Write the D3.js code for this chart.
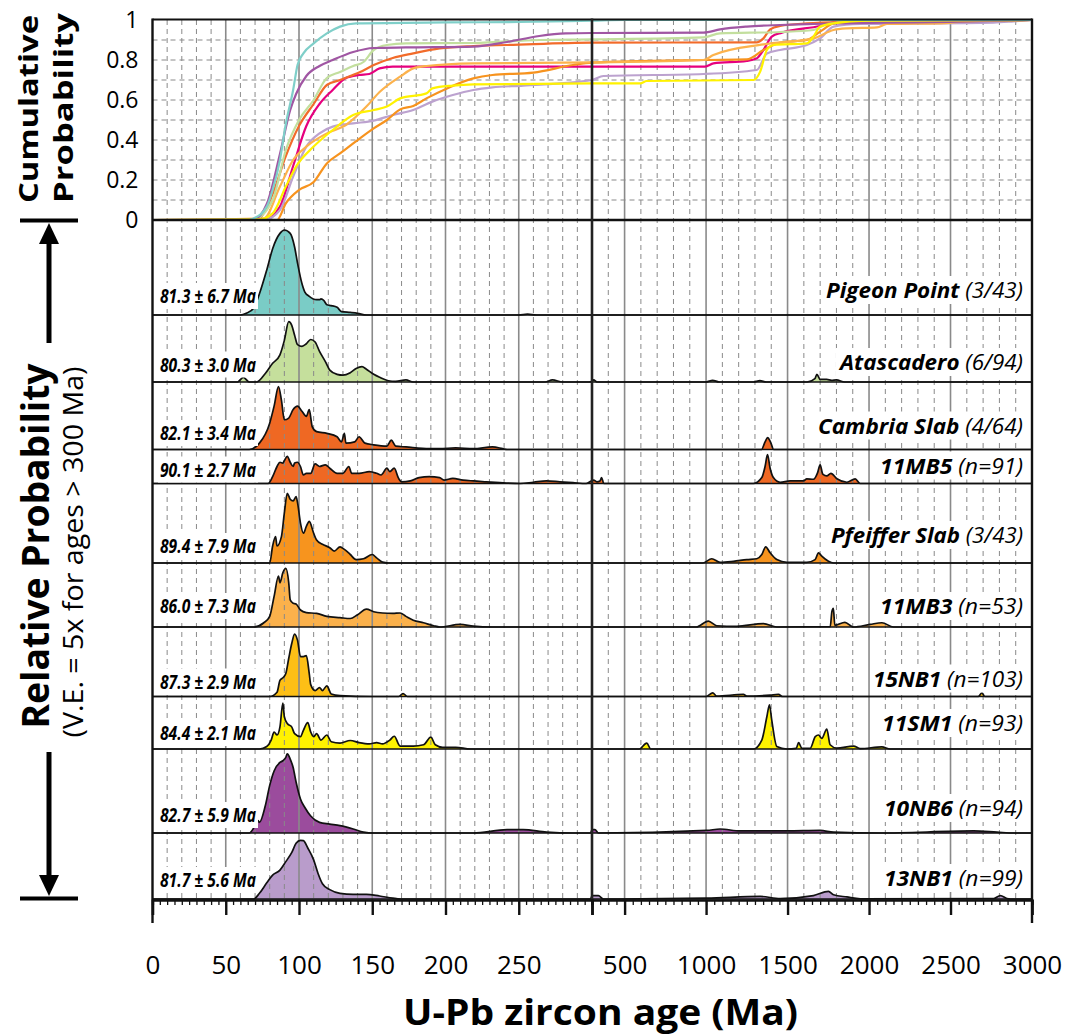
<!DOCTYPE html>
<html>
<head>
<meta charset="utf-8">
<script src="https://cdn.jsdelivr.net/npm/d3@7"></script>
<style>
  body { margin: 0; background: #fff; }
  svg { display: block; }
  text { font-family: "Open Sans", "Noto Sans", sans-serif; fill: #000; }
</style>
</head>
<body>
<svg id="chart" width="1068" height="1035"></svg>
<script>
// ---- data: sample names, labels ----
const sampleNames = ["Pigeon Point", "Atascadero", "Cambria Slab", "11MB5", "Pfeiffer Slab",
                     "11MB3", "15NB1", "11SM1", "10NB6", "13NB1"];
const sampleCounts = ["(3/43)", "(6/94)", "(4/64)", "(n=91)", "(3/43)",
                      "(n=53)", "(n=103)", "(n=93)", "(n=94)", "(n=99)"];
const youngAges = ["81.3 ± 6.7 Ma", "80.3 ± 3.0 Ma", "82.1 ± 3.4 Ma", "90.1 ± 2.7 Ma", "89.4 ± 7.9 Ma",
                   "86.0 ± 7.3 Ma", "87.3 ± 2.9 Ma", "84.4 ± 2.1 Ma", "82.7 ± 5.9 Ma", "81.7 ± 5.6 Ma"];

// relative probability [age Ma, % of tallest peak] (ages > 300 Ma shown with 5x V.E.)
const pigeonPoint = [[0,0],[60,0],[64,2],[69,8],[73,25],[78,53],[82,78],[87,96],[90,100],[94,96],[97,80],[99,61],
  [102,37],[104,27],[107,22],[112,18],[114,18],[115,19],[117,17],[119,12],[122,11],[126,9],[129,4],[135,3],[140,2],
  [146,0],[250,0],[256,1],[262,0],[3000,0]];
const atascadero = [[0,0],[58,0],[62,5.5],[66,0],[71,0],[77,10],[82,22],[87,32],[90,49],[93,71],[95,67],[97,55],
  [99,44],[102,42],[105,45],[108,50],[111,47],[114,36],[118,24],[121,14],[126,9],[130,8],[135,11],[139,16],[143,18],
  [146,15],[151,9],[155,5.5],[161,1.5],[166,0.8],[173,2.4],[178,0],[268,0],[273,2.4],[280,0],[298,0],[300,1],[310,2.4],
  [330,0],[1000,0],[1040,2],[1080,0],[1290,0],[1330,1.6],[1370,0],[1620,0],[1668,4],[1680,9],[1700,3],[1740,3],
  [1770,2],[1800,2.4],[1850,0],[3000,0]];
const cambriaSlab = [[0,0],[66,0],[73,7.5],[80,31],[83,51],[86,74],[88,58],[90,35],[93,37],[96,47],[99,51],[102,45],
  [105,39],[107,47],[109,27],[112,21],[119,19],[126,15],[129,9],[131,19],[132,7.5],[138,9],[141,15],[145,7.5],
  [151,5.5],[160,4],[163,11],[166,4],[173,3],[189,1],[196,1],[207,2],[219,1],[232,3],[239,1],[242,0],[1340,0],
  [1362,9],[1378,14],[1395,9],[1415,0],[3000,0]];
const mb5 = [[0,0],[79,0],[82,8],[85,20],[87,25],[89,24],[90,27],[92,32],[94,25],[96,20],[97,24],[99,25],[101,20],
  [103,10],[105,12],[108,12],[111,23],[114,20],[118,22],[121,18],[126,12],[130,12],[134,20],[136,12],[141,12],
  [148,14],[153,12],[156,10],[160,18],[162,14],[165,18],[168,6],[170,2],[176,3],[182,7],[189,8],[196,7],[199,4],
  [205,6],[212,4],[219,3],[228,2],[237,1],[251,0],[260,1.5],[269,3],[278,2],[287,1],[296,0],[310,4],[330,2],
  [349,3],[359,7],[372,0],[1290,0],[1342,7],[1362,20],[1377,34],[1393,18],[1413,7],[1454,1.5],[1516,3],[1598,3],
  [1618,5.5],[1659,5],[1684,12.5],[1700,22],[1716,11],[1741,9],[1766,12],[1803,5.5],[1864,1.5],[1915,5.5],
  [1946,0],[3000,0]];
const pfeifferSlab = [[0,0],[80,0],[82,20],[84,31],[85,20],[88,31],[90,59],[92,82],[94,75],[96,73],[98,78],[99,71],
  [101,47],[103,35],[105,43],[107,49],[110,35],[112,27],[116,22],[121,18],[124,14],[128,19],[131,16],[135,10],
  [139,4],[144,5],[150,10],[153,6],[157,1],[161,0],[980,0],[1035,5],[1086,0.8],[1168,2],[1250,4],[1311,5],
  [1342,10],[1366,19],[1393,12],[1434,4],[1496,0.8],[1618,0.8],[1669,4],[1690,12],[1710,8],[1751,2],[1782,0],
  [3000,0]];
const mb3 = [[0,0],[69,0],[76,5],[80,12.5],[83,36],[86,60],[87,52],[89,64],[91,69],[93,52],[94,32],[96,28],[98,27],
  [101,20],[105,17],[112,16],[119,12.5],[128,11],[135,10],[140,14.5],[146,21],[151,18],[157,16.5],[164,16],
  [169,16.5],[173,12.5],[178,8],[185,5],[192,1.5],[196,0],[210,3],[219,1],[232,0],[940,0],[1014,7],[1065,1.5],
  [1188,0.8],[1352,4],[1434,0],[1762,0.5],[1772,18],[1781,22],[1790,2],[1852,5.5],[1903,0],[2006,3],[2079,5],
  [2150,0],[3000,0]];
const nb15 = [[0,0],[80,0],[85,5],[87,19],[89,22],[91,27],[93,45],[95,62],[97,73.5],[99,66],[101,47],[103,47],
  [105,48],[107,27],[108,14],[111,7],[114,10.5],[116,7],[119,12.6],[122,3],[128,1],[150,0],[168,0],[171,3.5],
  [174,0],[1000,0],[1041,4.3],[1065,0.5],[1229,2.4],[1250,0.5],[1393,1.6],[1444,2.4],[1470,0],[2670,0],
  [2693,4.3],[2710,0],[3000,0]];
const sm1 = [[0,0],[73,0],[78,3],[81,10.5],[83,20],[85,16.5],[87,26],[89,54],[90,38],[92,30],[95,26],[97,18],
  [101,14.5],[103,22],[106,31],[108,20],[110,14.5],[112,18],[115,10.5],[119,16.5],[122,8.6],[128,7],[135,10],
  [141,7.5],[148,6],[153,7.5],[157,6],[162,10.5],[165,15],[169,3.5],[178,3.5],[185,5],[190,14],[193,5],[198,2],
  [207,2],[217,0],[590,0],[636,7],[660,0],[1290,0],[1342,10.5],[1373,38],[1389,52],[1403,34],[1434,3],[1496,0],
  [1553,0.8],[1568,7.5],[1588,0.8],[1639,0.8],[1670,14.5],[1690,16.5],[1710,12.5],[1741,23.5],[1761,5],
  [1802,1],[1905,3.5],[1946,0.4],[2079,2.5],[2130,0],[3000,0]];
const nb6 = [[0,0],[66,0],[70,8.6],[72,14.5],[73,12.5],[77,32],[80,56],[83,73],[87,83],[89,85],[91,89],[92,93],
  [94,87],[96,77],[98,60],[101,40],[104,30],[108,20],[114,12.5],[121,10.5],[128,8.6],[137,4.7],[144,1],[151,0],
  [219,0],[242,4],[253,4],[269,1],[287,0],[299,0],[301,4],[318,4],[339,0],[1004,3],[1086,4.7],[1209,2.4],[1496,2.4],
  [1700,3],[1782,1],[2069,0],[2642,2.4],[2785,1],[2887,0],[3000,0]];
const nb13 = [[0,0],[69,0],[73,6.7],[78,19],[82,28],[87,34],[91,44],[95,54.5],[98,65.5],[101,69],[103,68.6],
  [106,60],[110,46],[113,30],[116,18],[121,11],[128,6.7],[137,5.5],[146,5.5],[155,3.5],[164,1],[169,0],[299,0],[301,4],
  [339,4],[370,0],[1004,1],[1332,3],[1454,0.5],[1659,4],[1751,9],[1782,5],[1864,2.4],[1946,0.3],[2765,0.6],
  [2806,4],[2847,0.6],[2887,0],[3000,0]];
const densities = [pigeonPoint, atascadero, cambriaSlab, mb5, pfeifferSlab, mb3, nb15, sm1, nb6, nb13];

// cumulative probability curves [age Ma, cumulative]
const cumMagenta = [[0,0],[76,0],[87,0.067],[96,0.27],[105,0.47],[114,0.58],[123,0.65],[132,0.71],[141,0.725],
  [148,0.73],[155,0.758],[164,0.767],[300,0.767],[994,0.767],[1045,0.783],[1250,0.795],[1311,0.808],[1352,0.85],
  [1403,0.917],[1465,0.937],[1700,0.97],[1800,0.99],[3000,1]];
const cumLavender = [[0,0],[76,0],[87,0.05],[96,0.217],[105,0.367],[114,0.433],[123,0.467],[137,0.483],[151,0.497],
  [164,0.525],[178,0.55],[191,0.592],[205,0.625],[219,0.65],[232,0.663],[253,0.672],[300,0.7],[370,0.72],
  [984,0.73],[1311,0.75],[1373,0.833],[1454,0.85],[1618,0.875],[1700,0.908],[1782,0.967],[1946,0.98],
  [2765,0.987],[2887,0.993],[3000,1]];
const cumOrange = [[0,0],[85,0],[91,0.083],[100,0.15],[110,0.19],[119,0.283],[128,0.333],[137,0.383],[151,0.458],
  [160,0.5],[169,0.553],[178,0.57],[187,0.608],[201,0.658],[219,0.708],[232,0.725],[260,0.737],[287,0.775],
  [300,0.787],[994,0.8],[1250,0.803],[1352,0.85],[1454,0.887],[1618,0.9],[1700,0.942],[1782,0.983],[1900,0.995],
  [3000,1]];
const cumLightOrange = [[0,0],[76,0.008],[87,0.167],[96,0.3],[105,0.367],[119,0.433],[132,0.475],[146,0.567],
  [155,0.64],[169,0.717],[178,0.758],[187,0.77],[219,0.783],[300,0.788],[984,0.8],[1045,0.825],[1352,0.878],
  [1659,0.908],[1782,0.95],[1864,0.958],[2049,0.963],[2110,0.98],[2437,0.983],[2580,0.992],[3000,1]];
const cumRed = [[0,0],[71,0],[82,0.13],[91,0.32],[100,0.47],[110,0.58],[119,0.675],[128,0.70],[135,0.72],
  [141,0.737],[151,0.775],[164,0.81],[178,0.833],[196,0.858],[219,0.87],[242,0.875],[300,0.887],[1311,0.888],
  [1352,0.908],[1393,0.953],[1454,0.97],[1618,0.983],[1864,0.99],[3000,1]];
const cumGreen = [[0,0],[69,0.003],[82,0.1],[91,0.35],[100,0.5],[110,0.6],[119,0.71],[128,0.74],[137,0.77],
  [144,0.79],[151,0.85],[160,0.875],[173,0.883],[219,0.885],[264,0.9],[300,0.903],[984,0.913],[1086,0.933],
  [1454,0.94],[1659,0.95],[1741,0.98],[1864,0.99],[2006,0.995],[3000,1]];
const cumPurple = [[0,0],[69,0.003],[78,0.08],[87,0.33],[94,0.55],[98,0.63],[105,0.72],[114,0.77],[123,0.80],
  [137,0.84],[151,0.86],[173,0.863],[219,0.867],[242,0.89],[264,0.92],[282,0.933],[300,0.935],[984,0.937],
  [1086,0.953],[1250,0.967],[1454,0.975],[1659,0.98],[2077,0.987],[2485,0.99],[3000,1]];
const cumYellow = [[0,0],[73,0.003],[82,0.033],[91,0.167],[98,0.267],[110,0.367],[123,0.45],[137,0.525],
  [151,0.55],[160,0.567],[169,0.608],[187,0.633],[191,0.658],[205,0.672],[219,0.678],[300,0.683],[595,0.683],
  [636,0.695],[1291,0.7],[1332,0.742],[1373,0.85],[1413,0.875],[1618,0.883],[1659,0.917],[1700,0.967],
  [1782,0.983],[1986,0.997],[3000,1]];
const cumTeal = [[0,0],[66,0],[69,0.008],[78,0.067],[82,0.15],[87,0.3],[91,0.48],[96,0.65],[99,0.775],[103,0.833],
  [110,0.883],[119,0.933],[128,0.967],[139,0.983],[200,0.988],[250,0.99],[300,0.997],[500,1],[3000,1]];
const cumCurves = [cumMagenta, cumLavender, cumOrange, cumLightOrange, cumRed, cumGreen, cumPurple, cumYellow, cumTeal];

const cumTicks = [0, 0.2, 0.4, 0.6, 0.8, 1];
const ageTicksYoung = [0, 50, 100, 150, 200, 250, 300];
const ageTicksOld = [500, 1000, 1500, 2000, 2500, 3000];

// ---- styles & layout ----
const fillColors = ["#7accc6", "#c5df9c", "#ef6823", "#ef6823", "#f7941e",
                    "#fbb14b", "#fdbf16", "#fff200", "#9b4c9d", "#b99ccb"];
const cumColors = ["#e6007e", "#bca2cf", "#f7931e", "#fcb24c", "#f26b2a", "#c3df9e", "#a056a3", "#fff200", "#7fcfc9"];
const panelHeights = [95, 67, 67.5, 34, 79.5, 64, 69.5, 52.5, 84, 66];
const nameLift = [17, 12, 16, 10, 20, 13, 10, 18, 17, 13];
const ageLift = [12, 10.5, 9.5, 7, 10, 14, 8, 9, 11, 12];
const nameWidths = [197, 183, 205, 143, 192, 143, 150, 141, 139, 139];

const svg = d3.select("#chart");
const plotL = 152.5, plotM = 592, plotR = 1032, plotT = 20, plotS = 220, plotB = 900;

const xYoung = d3.scaleLinear().domain([0, 300]).range([plotL, plotM]);
const xOld = d3.scaleLinear().domain([300, 3000]).range([plotM, plotR]);
const x = a => a <= 300 ? xYoung(a) : xOld(a);
const yCum = d3.scaleLinear().domain([0, 1]).range([plotS, plotT]);
const hRel = d3.scaleLinear().domain([0, 100]).range([0, 85]);

// panel baselines
const baselines = [];
panelHeights.reduce((acc, h) => { baselines.push(acc + h); return acc + h; }, plotS);

// ---- fills (under the grid) ----
const gFill = svg.append("g");
densities.forEach((d, i) => {
  const area = d3.area().curve(d3.curveMonotoneX)
    .x(p => x(p[0])).y0(baselines[i]).y1(p => baselines[i] - hRel(p[1]));
  gFill.append("path").attr("d", area(d)).attr("fill", fillColors[i]);
});

// ---- grid ----
const gGrid = svg.append("g");
const minorYoung = d3.range(10, 300, 10).filter(v => v % 50 !== 0);
const minorOld = d3.range(400, 3000, 100).filter(v => v % 500 !== 0);
const majorAll = [50, 100, 150, 200, 250, 500, 1000, 1500, 2000, 2500];
gGrid.selectAll(".vminor").data(minorYoung.concat(minorOld)).join("line")
  .attr("x1", d => x(d)).attr("x2", d => x(d)).attr("y1", plotT).attr("y2", plotB)
  .attr("stroke", "#8a8a8a").attr("stroke-width", 1).attr("stroke-dasharray", "5,4");
gGrid.selectAll(".vmajor").data(majorAll).join("line")
  .attr("x1", d => x(d)).attr("x2", d => x(d)).attr("y1", plotT).attr("y2", plotB)
  .attr("stroke", "#8a8a8a").attr("stroke-width", 1.6);
gGrid.selectAll(".hgrid").data(d3.range(1, 10).map(v => v / 10)).join("line")
  .attr("x1", plotL).attr("x2", plotR).attr("y1", d => yCum(d)).attr("y2", d => yCum(d))
  .attr("stroke", "#8a8a8a").attr("stroke-width", 1).attr("stroke-dasharray", "5,4");

// ---- density outlines + baselines ----
const gLine = svg.append("g");
densities.forEach((d, i) => {
  const line = d3.line().curve(d3.curveMonotoneX).x(p => x(p[0])).y(p => baselines[i] - hRel(p[1]));
  gLine.append("path").attr("d", line(d)).attr("fill", "none")
    .attr("stroke", "#111").attr("stroke-width", 1.7).attr("stroke-linejoin", "round");
  gLine.append("line").attr("x1", plotL).attr("x2", plotR)
    .attr("y1", baselines[i]).attr("y2", baselines[i]).attr("stroke", "#111").attr("stroke-width", 1.7);
});

// ---- cumulative curves ----
const cumLine = d3.line().curve(d3.curveMonotoneX).x(p => x(p[0])).y(p => yCum(p[1]));
svg.append("g").selectAll("path").data(cumCurves).join("path")
  .attr("d", cumLine).attr("fill", "none")
  .attr("stroke", (d, i) => cumColors[i]).attr("stroke-width", 2.2);

// ---- frame ----
const gFrame = svg.append("g").attr("stroke", "#111");
gFrame.append("line").attr("x1", plotL).attr("x2", plotR).attr("y1", plotT - 0.5).attr("y2", plotT - 0.5).attr("stroke-width", 2);
gFrame.append("line").attr("x1", plotL).attr("x2", plotR).attr("y1", plotS).attr("y2", plotS).attr("stroke-width", 2.6);
gFrame.append("line").attr("x1", plotL).attr("x2", plotL).attr("y1", plotT - 1.5).attr("y2", 923).attr("stroke-width", 2.4);
gFrame.append("line").attr("x1", plotR).attr("x2", plotR).attr("y1", plotT - 1.5).attr("y2", 923).attr("stroke-width", 2.4);
gFrame.append("line").attr("x1", plotM).attr("x2", plotM).attr("y1", plotT - 1.5).attr("y2", plotB)
  .attr("stroke", "#222").attr("stroke-width", 2.6);

// ---- axes ----
const axMinorY = svg.append("g").attr("transform", `translate(0,${plotB})`)
  .call(d3.axisBottom(xYoung).tickValues(d3.range(0, 301, 5)).tickSize(5).tickFormat(""));
const axMinorO = svg.append("g").attr("transform", `translate(0,${plotB})`)
  .call(d3.axisBottom(xOld).tickValues(d3.range(300, 3001, 50)).tickSize(5).tickFormat(""));
const axYoung = svg.append("g").attr("transform", `translate(0,${plotB})`)
  .call(d3.axisBottom(xYoung).tickValues(ageTicksYoung).tickSize(15).tickPadding(41)
    .tickFormat(d => d === 300 ? "" : String(d)));
const axOld = svg.append("g").attr("transform", `translate(0,${plotB})`)
  .call(d3.axisBottom(xOld).tickValues(ageTicksOld).tickSize(15).tickPadding(41).tickFormat(d => String(d)));
[axMinorY, axMinorO, axYoung, axOld].forEach(g => {
  g.select(".domain").attr("stroke", "#111").attr("stroke-width", 2.2);
  g.selectAll(".tick line").attr("stroke", "#111");
  g.selectAll(".tick text").attr("font-size", 26).attr("font-family", "'Open Sans', sans-serif").attr("fill", "#000");
});
axMinorY.selectAll(".tick line").attr("stroke-width", 1.3);
axMinorO.selectAll(".tick line").attr("stroke-width", 1.3);
axYoung.selectAll(".tick line").attr("stroke-width", 2.4);
axOld.selectAll(".tick line").attr("stroke-width", 2.4);

const axCum = svg.append("g").attr("transform", `translate(${plotL},0)`)
  .call(d3.axisLeft(yCum).tickValues(cumTicks).tickSize(0).tickPadding(14).tickFormat(d => String(d)));
axCum.select(".domain").remove();
axCum.selectAll(".tick text").attr("font-size", 23).attr("font-family", "'Open Sans', sans-serif").attr("fill", "#000");

// ---- labels ----
function whiteBox(g, t) {
  const b = t.node().getBBox();
  g.insert("rect", "text").attr("x", b.x - 2).attr("y", b.y).attr("width", b.width + 4)
    .attr("height", b.height).attr("fill", "#fff");
}
sampleNames.forEach((name, i) => {
  const g = svg.append("g");
  const t = g.append("text").attr("x", 1023).attr("y", baselines[i] - nameLift[i])
    .attr("text-anchor", "end").attr("font-size", 21)
    .attr("textLength", nameWidths[i]).attr("lengthAdjust", "spacingAndGlyphs");
  t.append("tspan").attr("font-weight", 700).attr("font-style", "italic").text(name + " ");
  t.append("tspan").attr("font-style", "italic").text(sampleCounts[i]);
  whiteBox(g, t);

  const g2 = svg.append("g");
  const t2 = g2.append("text").attr("x", 256).attr("y", baselines[i] - ageLift[i])
    .attr("text-anchor", "end").attr("font-size", 19).attr("font-weight", 700).attr("font-style", "italic")
    .attr("textLength", 96).attr("lengthAdjust", "spacingAndGlyphs").text(youngAges[i]);
  whiteBox(g2, t2);
});

// x title
svg.append("text").attr("x", 600.5).attr("y", 1025).attr("text-anchor", "middle")
  .attr("font-size", 35).attr("font-weight", 700)
  .attr("textLength", 395).attr("lengthAdjust", "spacingAndGlyphs").text("U-Pb zircon age (Ma)");

// left vertical titles
function vText(xPos, yMid, str, size, weight, len) {
  svg.append("text").attr("transform", `translate(${xPos},${yMid}) rotate(-90)`)
    .attr("text-anchor", "middle").attr("font-size", size).attr("font-weight", weight)
    .attr("textLength", len).attr("lengthAdjust", "spacingAndGlyphs").text(str);
}
vText(37.5, 109, "Cumulative", 27, 700, 188);
vText(72.5, 108, "Probability", 27, 700, 190);
vText(49, 546, "Relative Probability", 38, 700, 365);
vText(83, 552, "(V.E. = 5x for ages > 300 Ma)", 27, 400, 371);

// arrows
const gArrow = svg.append("g").attr("stroke", "#000").attr("fill", "#000");
gArrow.append("line").attr("x1", 20).attr("x2", 78).attr("y1", 220.5).attr("y2", 220.5).attr("stroke-width", 4);
gArrow.append("line").attr("x1", 49).attr("x2", 49).attr("y1", 240).attr("y2", 343).attr("stroke-width", 5);
gArrow.append("path").attr("d", d3.line()([[39, 244], [49, 223], [59, 244]])).attr("stroke", "none");
gArrow.append("line").attr("x1", 20).attr("x2", 78).attr("y1", 898.5).attr("y2", 898.5).attr("stroke-width", 4);
gArrow.append("line").attr("x1", 49).attr("x2", 49).attr("y1", 752).attr("y2", 878).attr("stroke-width", 5);
gArrow.append("path").attr("d", d3.line()([[39, 875], [49, 896], [59, 875]])).attr("stroke", "none");
</script>
</body>
</html>
